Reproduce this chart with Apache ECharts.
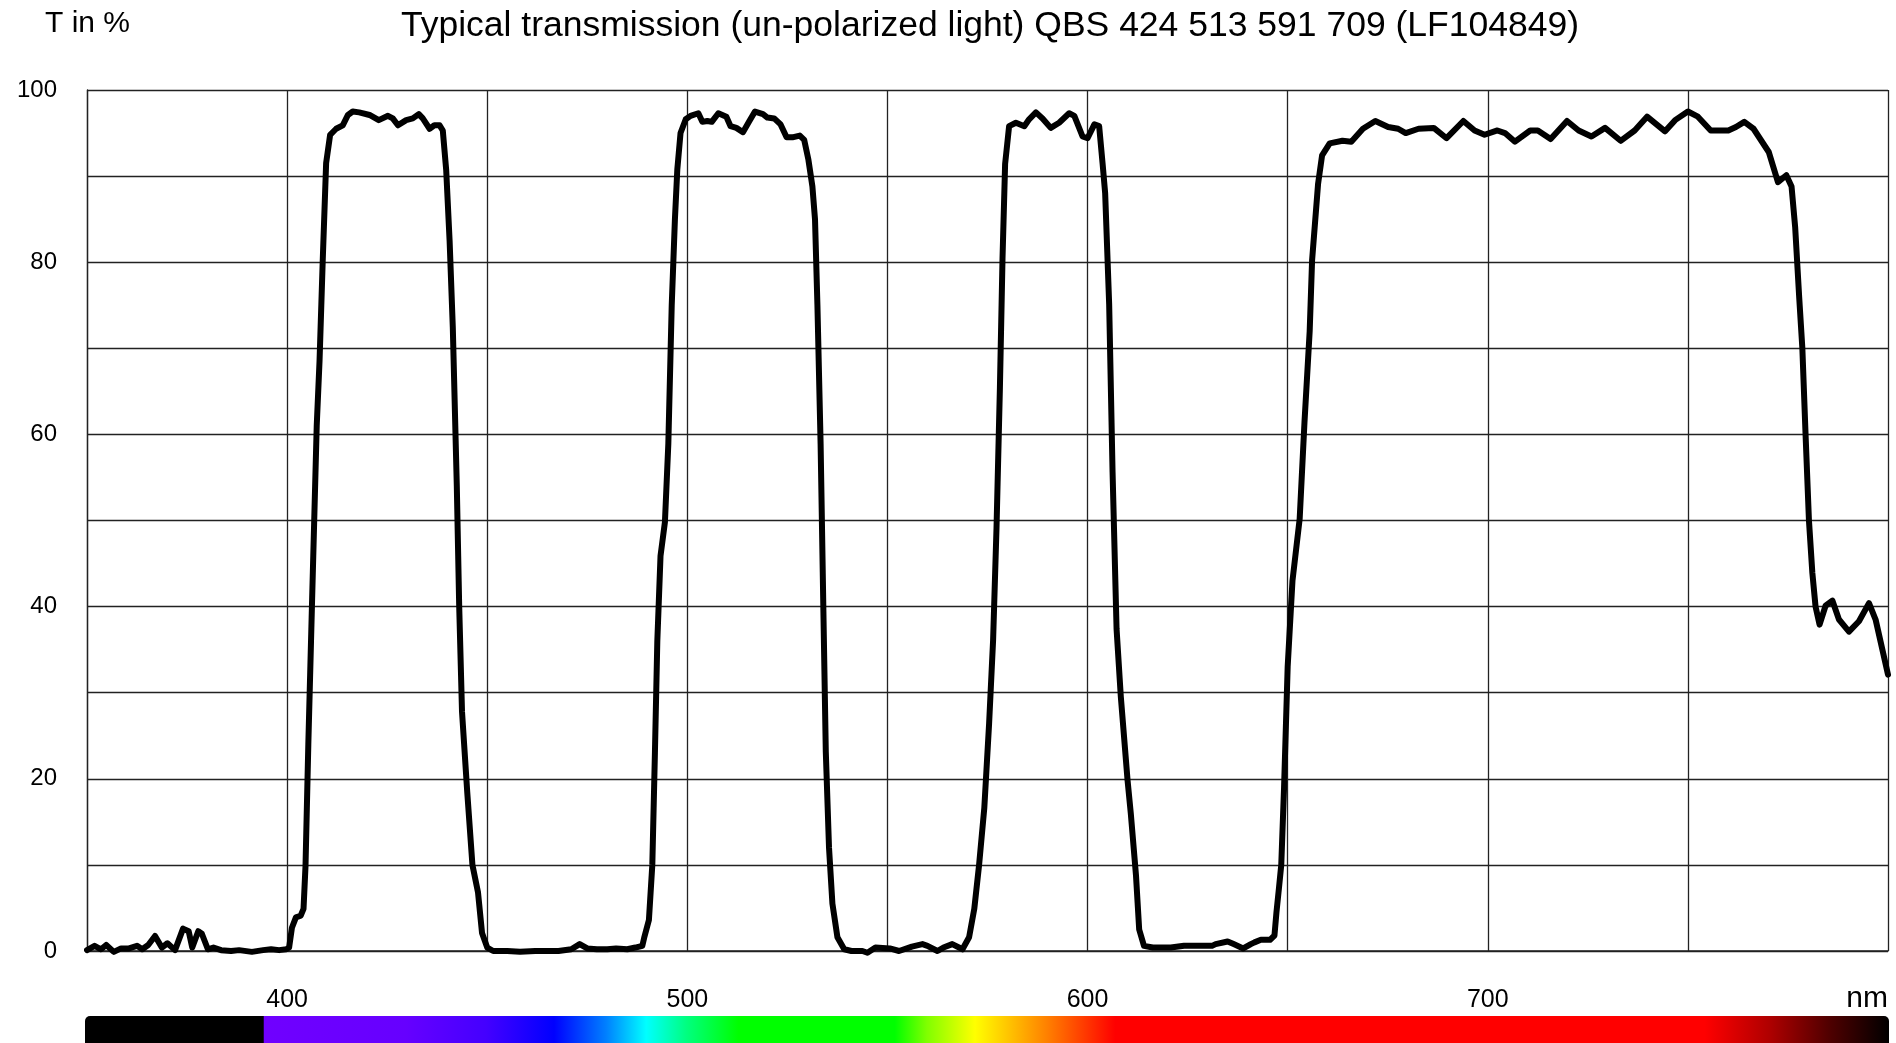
<!DOCTYPE html>
<html>
<head>
<meta charset="utf-8">
<title>QBS 424 513 591 709 transmission</title>
<script src="https://cdn.jsdelivr.net/npm/echarts@6/dist/echarts.min.js"></script>
<style>
  html, body { margin: 0; padding: 0; background: #fff; }
  #chart { width: 1896px; height: 1043px; }
</style>
</head>
<body>
<div id="chart"></div>
<script>
// wavelength in nm
const wavelength = [
  350, 351.9, 353.5, 354.8, 356.7, 358.5, 360.5, 362.5, 363.8, 365.3, 367, 368.7, 370.1, 372, 374, 375.4, 376.3, 377.8, 378.7, 380.2,
  381.6, 383.5, 386, 388, 391.2, 394, 396, 398, 399.8, 400.5, 401.2, 402.2, 403.4, 404.1, 404.6, 405.3, 406.2, 407.4, 408.1, 408.9,
  409.75, 410.75, 412.25, 413.9, 415.2, 416.4, 418, 420.6, 422.9, 425.2, 426.4, 427.7, 429.75, 431.4, 432.9, 433.9, 435.6, 436.8, 438.1, 438.9,
  439.75, 440.6, 441.4, 442.4, 443, 443.7, 445, 446.3, 447.7, 448.7, 450, 451.5, 455, 458.2, 462, 467.8, 471, 473.1, 475, 477.4,
  480, 482.2, 485, 487, 488.75, 489.2, 490.4, 491.25, 491.9, 492.5, 493.3, 494.4, 495.25, 496.1, 496.9, 497.5, 498.3, 499.6, 500.8, 502.75,
  503.75, 505, 506.1, 507.75, 509.75, 510.8, 512.25, 513.9, 515.4, 516.9, 518.9, 520, 521.7, 523.3, 524.8, 526.25, 528.1, 529.2, 530.25, 531.25,
  531.9, 532.5, 533.3, 534, 534.6, 535.4, 536.25, 537.5, 539.2, 541, 543.75, 545, 547, 550.6, 552.9, 556.1, 558.75, 560, 562.5, 564,
  566.2, 568.75, 570.4, 571.7, 572.9, 574.2, 575.4, 576.4, 577.25, 578.1, 578.75, 579.4, 580.4, 582.1, 584.2, 585.4, 587.1, 588.75, 590.8, 592.9,
  595.4, 596.7, 598.75, 600, 601.7, 602.9, 603.75, 604.4, 605.4, 606.25, 607.25, 608.3, 610, 610.8, 612.1, 612.9, 614.1, 616.3, 620.8, 624.1,
  628.6, 631.1, 632, 635, 636.5, 638.9, 640.8, 641.7, 643.3, 645.6, 646.7, 647.2, 647.8, 648.4, 649.1, 650, 651.2, 653, 654.2, 655.5,
  656.1, 657.6, 658.6, 660.5, 663.7, 665.9, 668.8, 671.9, 675.1, 677.6, 679.5, 682.7, 686.5, 689.7, 693.9, 696.7, 699.2, 702.4, 704.3, 706.8,
  710.6, 712.5, 715.7, 719.8, 722.7, 725.9, 729.3, 733.2, 736.7, 739.8, 744.3, 746.8, 750, 752.5, 755.7, 760.1, 762, 764.1, 766.4, 770.2,
  772.5, 774.6, 775.9, 776.8, 777.8, 778.6, 779.4, 780.25, 781.1, 781.9, 782.9, 784.4, 786.1, 787.75, 790.25, 792.75, 795.25, 796.9, 800
];
// transmission in %
const transmission = [
  0.1, 0.6, 0.2, 0.7, -0.1, 0.3, 0.3, 0.6, 0.2, 0.7, 1.75, 0.4, 0.9, 0.1, 2.6, 2.3, 0.4, 2.3, 2.0, 0.2,
  0.4, 0.1, 0.0, 0.1, -0.1, 0.1, 0.2, 0.1, 0.2, 0.4, 2.7, 3.9, 4.1, 4.9, 9.9, 24, 40, 61, 68.5, 80.2,
  91.5, 94.8, 95.5, 95.9, 97.1, 97.5, 97.4, 97.1, 96.5, 97, 96.7, 95.9, 96.5, 96.7, 97.2, 96.7, 95.5, 95.9, 95.9, 95.3,
  90.7, 82.5, 72.4, 54, 40, 27.8, 18.5, 10, 6.8, 2.1, 0.4, 0.0, 0.0, -0.1, 0.0, 0.0, 0.2, 0.8, 0.3, 0.2,
  0.2, 0.3, 0.2, 0.4, 0.6, 1.5, 3.6, 10, 23, 36, 45.9, 49.8, 58.9, 75, 85, 90.8, 95, 96.6, 97, 97.3,
  96.3, 96.4, 96.3, 97.3, 96.9, 95.8, 95.6, 95.1, 96.3, 97.5, 97.2, 96.8, 96.7, 96, 94.5, 94.5, 94.7, 94.2, 91.9, 88.8,
  85, 75.1, 58.9, 39.4, 23.1, 12, 5.5, 1.6, 0.2, 0, 0, -0.2, 0.4, 0.3, 0, 0.5, 0.8, 0.6, 0, 0.4,
  0.8, 0.2, 1.6, 4.9, 10, 16.6, 26.4, 36.1, 49.1, 65.4, 80.4, 91.4, 95.8, 96.2, 95.8, 96.6, 97.4, 96.7, 95.6, 96.2,
  97.3, 97, 94.6, 94.4, 96, 95.8, 91.5, 88, 75.1, 55.6, 37.4, 29.6, 19.8, 16, 8.8, 2.5, 0.6, 0.4, 0.4, 0.6,
  0.6, 0.6, 0.8, 1.1, 0.8, 0.3, 0.8, 1.0, 1.3, 1.3, 1.8, 4.5, 7.2, 10, 19, 33, 43, 50.2, 61.4, 72,
  80.2, 89.1, 92.4, 93.8, 94.1, 94, 95.5, 96.4, 95.7, 95.5, 95, 95.5, 95.6, 94.4, 96.4, 95.3, 94.8, 95.3, 95, 94,
  95.3, 95.3, 94.3, 96.4, 95.3, 94.6, 95.6, 94.1, 95.3, 96.9, 95.2, 96.5, 97.5, 96.9, 95.3, 95.3, 95.7, 96.3, 95.5, 92.8,
  89.3, 90.1, 88.8, 84.1, 76, 70, 60, 50, 43.9, 40, 37.9, 40.1, 40.7, 38.5, 37.1, 38.3, 40.4, 38.5, 32.1
];
// colour strip under the axis
const spectrumNm = [350, 394.5, 394.6, 430, 450, 467, 480, 490, 500, 513, 552, 560, 572, 590, 607, 754, 770, 785, 800];
const spectrumColor = ['#000000', '#000000', '#7000ff', '#6600ff', '#4400ff', '#0000ff', '#0080ff', '#00ffff', '#00ff80', '#00ff00',
  '#00ff00', '#80ff00', '#ffff00', '#ff8000', '#ff0000', '#ff0000', '#b00000', '#500000', '#000000'];

const xMin = 350, xMax = 800;
const font = '"Liberation Sans", Arial, sans-serif';

const chart = echarts.init(document.getElementById('chart'));

const stops = spectrumNm.map((nm, i) => ({ offset: (nm - xMin) / (xMax - xMin), color: spectrumColor[i] }));

const option = {
  backgroundColor: '#fff',
  animation: false,
  title: [
    {
      text: 'Typical transmission (un-polarized light) QBS 424 513 591 709 (LF104849)',
      left: 990, top: 8, textAlign: 'center', padding: 0,
      textStyle: { fontFamily: font, fontSize: 35.5, fontWeight: 'normal', color: '#000' }
    },
    {
      text: 'T in %', left: 45, top: 9, padding: 0,
      textStyle: { fontFamily: font, fontSize: 30, fontWeight: 'normal', color: '#000' }
    },
    {
      text: 'nm', right: 8, top: 984, padding: 0,
      textStyle: { fontFamily: font, fontSize: 30, fontWeight: 'normal', color: '#000' }
    }
  ],
  grid: [
    { left: 87, right: 8, top: 90, bottom: 92 },
    { left: 85, right: 7, top: 1016, height: 40 }
  ],
  xAxis: [
    {
      type: 'value', min: xMin, max: xMax, interval: 50,
      axisLine: { show: true, lineStyle: { color: '#222', width: 1.5 } },
      axisTick: { show: false },
      splitLine: { show: true, lineStyle: { color: '#222', width: 1.3 } },
      axisLabel: {
        margin: 37, fontFamily: font, fontSize: 25, color: '#000',
        formatter: v => (v % 100 === 0 && v > xMin && v < xMax) ? String(v) : ''
      }
    },
    { gridIndex: 1, type: 'value', min: xMin, max: xMax, show: false }
  ],
  yAxis: [
    {
      type: 'value', min: 0, max: 100, interval: 10,
      axisLine: { show: true, lineStyle: { color: '#222', width: 1.3 } },
      axisTick: { show: false },
      splitLine: { show: true, lineStyle: { color: '#222', width: 1.3 } },
      axisLabel: {
        margin: 30, fontFamily: font, fontSize: 24, color: '#000',
        formatter: v => (v % 20 === 0) ? String(v) : ''
      }
    },
    { gridIndex: 1, type: 'value', min: 0, max: 1, show: false }
  ],
  series: [
    {
      type: 'line',
      data: wavelength.map((x, i) => [x, transmission[i]]),
      showSymbol: false,
      smooth: false,
      clip: false,
      lineStyle: { color: '#000', width: 6, join: 'round', cap: 'round' }
    },
    {
      type: 'custom',
      xAxisIndex: 1, yAxisIndex: 1,
      data: [[xMin, xMax]],
      renderItem: (params, api) => {
        const p0 = api.coord([api.value(0), 1]);
        const p1 = api.coord([api.value(1), 0]);
        return {
          type: 'rect',
          shape: { x: p0[0], y: p0[1], width: p1[0] - p0[0], height: p1[1] - p0[1], r: [5, 5, 0, 0] },
          style: { fill: new echarts.graphic.LinearGradient(0, 0, 1, 0, stops) }
        };
      }
    }
  ]
};

chart.setOption(option);
</script>
</body>
</html>
